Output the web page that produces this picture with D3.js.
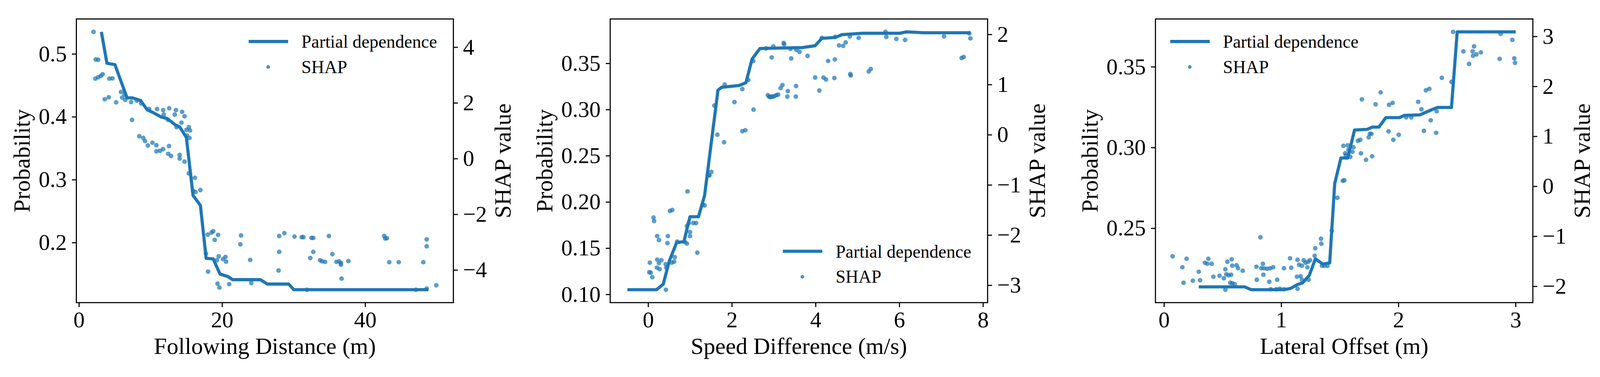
<!DOCTYPE html>
<html>
<head>
<meta charset="utf-8">
<script src="https://cdn.jsdelivr.net/npm/d3@7"></script>
<style>
    html, body { margin: 0; padding: 0; background: #fff; overflow: hidden; }
    svg { display: block; width: 100vw; height: 100vh; }
</style>
</head>
<body>
<svg id="chart" viewBox="0 0 4337 964" preserveAspectRatio="xMidYMid meet"></svg>
<script>
// feature names (x axis titles)
var features = ["Following Distance (m)", "Speed Difference (m/s)", "Lateral Offset (m)"];
var seriesNames = ["Partial dependence", "SHAP"];

// Following distance
var distPdX = [3.14, 3.92, 5.03, 6.73, 7.50, 8.61, 9.55, 10.49, 11.43, 12.37, 13.48, 14.08, 15.02, 15.95, 16.98, 17.78, 18.77, 19.71, 20.82, 21.47, 25.37, 26.33, 29.32, 30.04, 48.85];
var distPdY = [0.535, 0.485, 0.483, 0.430, 0.430, 0.426, 0.411, 0.406, 0.400, 0.397, 0.387, 0.384, 0.367, 0.275, 0.259, 0.175, 0.174, 0.150, 0.146, 0.141, 0.141, 0.134, 0.134, 0.125, 0.125];
var distShapX = [2.04, 2.35, 2.69, 2.29, 2.69, 3.06, 3.32, 4.26, 4.68, 3.61, 4.17, 5.20, 5.88, 6.05, 6.48, 6.39, 7.30, 7.42, 8.44, 9.00,
    9.24, 9.64, 10.27, 10.83, 10.83, 11.34, 11.77, 12.59, 12.49, 12.88, 14.08, 14.08, 14.76, 8.10, 8.70, 9.81, 10.92, 11.77, 11.86, 12.62,
    12.45, 13.56, 13.39, 14.42, 14.76, 14.33, 13.65, 15.36, 15.02, 15.53, 15.45, 15.10, 15.36, 16.21, 15.95, 16.30, 16.98, 18.00, 18.52, 18.77,
    19.45, 18.98, 17.75, 19.54, 19.28, 20.48, 20.14, 18.05, 19.37, 19.63, 21.00, 20.57,
    22.66, 22.56, 23.94, 24.09, 27.90, 27.99, 27.99, 28.71, 30.13, 31.13, 31.37, 31.85, 32.33, 32.51, 32.75, 32.75, 33.70, 33.99, 34.40, 34.94,
    35.42, 35.99, 36.37, 36.61, 36.61, 36.71, 37.66, 42.66, 42.80, 43.04, 43.37, 44.70, 47.09, 48.13, 48.60, 48.60, 48.60, 49.94];
var distShapY = [4.55, 3.56, 3.55, 2.87, 2.92, 2.97, 3.03, 2.87, 2.88, 2.13, 2.20, 2.02, 2.39, 2.19, 2.11, 2.30, 2.03, 1.39, 0.80, 0.74,
    0.63, 0.47, 0.57, 0.48, 0.26, 0.28, 0.34, 0.45, 0.17, 0.09, 0.13, 0.00, -0.11, 2.08, 1.98, 1.78, 1.78, 1.74, 1.58, 1.81,
    1.39, 1.74, 1.58, 1.68, 1.52, 1.29, 1.13, 1.13, 1.03, 1.01, 0.74, 0.83, -0.53, -0.69, -1.16, -1.20, -1.13, -2.73, -2.66, -2.61,
    -2.74, -2.92, -3.41, -3.51, -3.65, -3.53, -3.61, -4.06, -4.49, -4.63, -4.51, -3.70,
    -2.76, -3.08, -3.64, -4.47, -4.02, -3.35, -2.78, -2.68, -2.80, -2.82, -2.82, -4.71, -3.57, -2.85, -2.85, -3.35, -3.65, -3.69, -3.71, -2.78,
    -3.43, -3.71, -3.69, -3.75, -3.81, -4.31, -3.68, -2.78, -2.87, -2.86, -3.72, -3.72, -4.71, -3.72, -2.90, -3.15, -4.67, -4.55];

// Speed difference
var speedPdX = [-0.496, 0.201, 0.361, 0.506, 0.681, 0.855, 1.0, 1.204, 1.349, 1.669, 1.756, 2.177, 2.337, 2.482, 2.671, 3.674, 3.988, 4.151, 4.474, 4.636, 5.123, 6.014, 6.176, 6.582, 7.70];
var speedPdY = [0.105, 0.105, 0.111, 0.136, 0.156, 0.157, 0.184, 0.184, 0.207, 0.321, 0.324, 0.326, 0.329, 0.3545, 0.366, 0.367, 0.369, 0.377, 0.378, 0.381, 0.3825, 0.3825, 0.384, 0.383, 0.383];
var speedShapX = [0.041, 0.027, 0.064, 0.099, 0.129, 0.143, 0.216, 0.259, 0.216, 0.210, 0.274, 0.259, 0.318, 0.419, 0.434, 0.425, 0.472, 0.463, 0.521, 0.579,
    0.565, 0.623, 0.637, 0.695, 0.884, 0.928, 0.942, 0.928, 0.972, 1.001, 1.001, 1.082, 1.146, 1.175, 1.306, 1.350, 1.466, 1.510, 1.451, 1.581,
    1.654, 1.814, 1.829, 2.062, 2.251, 2.251, 2.323, 2.395, 2.518, 2.512, 2.817, 2.953, 2.991, 3.238, 3.252, 3.398, 3.418, 3.543, 3.616, 2.861,
    2.890, 2.919, 2.948, 2.977, 3.020, 3.064, 3.107, 3.165, 3.209, 3.339, 3.325, 3.534, 3.529,
    3.81, 3.99, 4.09, 4.15, 4.19, 4.25, 4.30, 4.46, 4.45, 4.47, 4.56, 4.66, 4.72, 4.82, 4.83, 4.84, 5.03, 5.27, 5.32, 5.67,
    5.69, 5.93, 6.14, 7.07, 7.49, 7.54, 7.67, 7.70];
var speedShapY = [-2.55, -2.74, -2.75, -2.84, -1.65, -1.72, -2.02, -2.10, -2.49, -2.65, -2.68, -2.56, -2.50, -2.58, -2.65, -3.09, -2.02, -2.16, -1.52, -1.50,
    -2.55, -2.53, -2.44, -2.13, -2.14, -2.17, -1.13, -1.82, -1.76, -1.94, -2.02, -1.76, -1.76, -2.35, -1.39, -1.41, -0.81, -0.74, -0.81, 0.58,
    0.00, -0.15, 1.00, 0.65, 0.91, 0.07, 0.09, 1.09, 0.50, 1.47, 1.72, 1.54, 1.76, 1.83, 1.80, 1.71, 1.52, 1.69, 1.65, 0.79,
    0.76, 0.75, 0.76, 0.76, 0.77, 0.79, 0.80, 0.93, 0.99, 0.87, 0.76, 0.97, 0.76,
    1.57, 1.14, 0.88, 1.93, 1.14, 1.10, 1.47, 1.50, 1.13, 1.95, 1.78, 1.77, 1.84, 1.96, 1.21, 1.18, 1.93, 1.26, 1.31, 2.05,
    1.95, 1.91, 1.89, 1.96, 1.53, 1.55, 2.02, 1.92];

// Lateral offset
var latPdX = [0.297, 0.688, 0.746, 1.022, 1.080, 1.138, 1.182, 1.240, 1.292, 1.356, 1.414, 1.457, 1.510, 1.568, 1.626, 1.733, 1.776, 1.834, 1.893, 2.009, 2.052, 2.183, 2.285, 2.334, 2.453, 2.502, 3.001];
var latPdY = [0.2137, 0.2137, 0.2119, 0.2119, 0.2127, 0.2151, 0.2161, 0.2208, 0.2310, 0.2278, 0.2285, 0.2777, 0.2935, 0.2935, 0.3108, 0.3112, 0.3126, 0.3126, 0.3185, 0.3185, 0.3199, 0.3202, 0.3234, 0.3248, 0.3248, 0.3716, 0.3716];
var latShapX = [0.074, 0.157, 0.167, 0.193, 0.247, 0.297, 0.308, 0.350, 0.379, 0.370, 0.407, 0.422, 0.474, 0.511, 0.524, 0.532, 0.552, 0.573, 0.541, 0.578,
    0.583, 0.620, 0.632, 0.672, 0.566, 0.583, 0.604, 0.524, 0.789, 0.823, 0.844, 0.830, 0.854, 0.880, 0.906, 0.932, 0.849, 0.792, 0.899, 0.966,
    0.911, 0.958, 0.989, 1.024, 1.024, 1.076, 1.086, 1.140, 1.153, 1.135, 1.166, 1.177, 1.140, 1.192, 1.208, 1.229, 1.246, 1.177, 1.224, 1.234,
    1.286, 1.291, 1.340, 1.343, 1.348, 1.369, 1.395, 1.432, 1.479, 1.526, 1.531, 1.546, 1.552,
    1.539, 1.568, 1.574, 1.608, 1.590, 1.617, 1.681, 1.655, 1.675, 1.689, 1.724, 1.747, 1.757, 1.776, 1.770, 1.806, 1.849, 1.916, 1.920, 1.951,
    1.957, 2.003, 2.067, 2.110, 2.169, 2.197, 2.218, 2.235, 2.264, 2.276, 2.322, 2.327, 2.371, 2.453, 2.467, 2.554, 2.603, 2.634, 2.637, 2.646,
    2.666, 2.704, 2.864, 2.873, 2.972, 2.989, 2.995];
var latShapY = [-1.40, -1.62, -1.93, -1.45, -1.89, -1.71, -1.88, -1.53, -1.45, -1.55, -1.55, -1.81, -1.79, -1.84, -1.66, -1.76, -1.78, -1.77, -1.51, -1.46,
    -1.59, -1.58, -1.64, -1.69, -1.93, -1.94, -1.96, -2.07, -1.61, -1.02, -1.55, -1.64, -1.64, -1.65, -1.64, -1.62, -1.77, -1.87, -1.91, -1.87,
    -2.06, -2.06, -2.05, -2.06, -1.64, -1.44, -1.63, -1.47, -1.57, -1.81, -1.80, -1.87, -2.05, -1.48, -1.53, -1.51, -1.48, -1.59, -1.62, -1.87,
    -1.39, -1.24, -1.05, -1.15, -1.59, -1.59, -1.59, -0.89, -0.23, 0.11, 0.81, 0.66, 0.62,
    0.12, 0.82, 0.73, 0.69, 0.59, 0.78, 0.66, 0.91, 0.93, 1.74, 0.53, 0.98, 1.05, 0.60, 1.05, 1.64, 1.88, 1.10, 1.63, 1.67,
    0.93, 1.03, 1.38, 1.38, 1.69, 1.54, 1.11, 1.92, 1.95, 1.32, 1.07, 1.50, 2.17, 2.09, 3.09, 2.70, 2.45, 2.70, 2.61, 2.80,
    2.64, 2.68, 2.55, 3.05, 2.93, 2.56, 2.47];

// tick labels
var distXTicks = [0, 20, 40];
var distProbTicks = [0.2, 0.3, 0.4, 0.5];
var distShapTicks = [-4, -2, 0, 2, 4];
var speedXTicks = [0, 2, 4, 6, 8];
var speedProbTicks = [0.10, 0.15, 0.20, 0.25, 0.30, 0.35];
var speedShapTicks = [-3, -2, -1, 0, 1, 2];
var latXTicks = [0, 1, 2, 3];
var latProbTicks = [0.25, 0.30, 0.35];
var latShapTicks = [-2, -1, 0, 1, 2, 3];

var FONT = "'Liberation Serif', 'Times New Roman', Times, serif";
var BLUE = "#1f77b4";
var top_ = 23, bottom_ = 791;

var svg = d3.select("#chart");
svg.append("rect").attr("width", 4337).attr("height", 964).attr("fill", "#fff");

// matplotlib style 5% margins
function padded(values) {
    var ext = d3.extent(values);
    var m = (ext[1] - ext[0]) * 0.05;
    return [ext[0] - m, ext[1] + m];
}

function styleAxis(g, fontSize) {
    g.select(".domain").remove();
    g.attr("font-family", FONT);
    g.selectAll(".tick line").attr("stroke", "#000").attr("stroke-width", 3);
    g.selectAll(".tick text").attr("fill", "#000").attr("font-size", fontSize);
}

function drawPanel(cfg) {
    var g = svg.append("g");

    var x = d3.scaleLinear()
        .domain(padded(cfg.pdX.concat(cfg.shapX)))
        .range([cfg.left, cfg.right]);
    var yProb = d3.scaleLinear()
        .domain(padded(cfg.pdY))
        .range([bottom_, top_]);
    var yShap = d3.scaleLinear()
        .domain(padded(cfg.shapY))
        .range([bottom_, top_]);

    // axes
    g.append("g")
        .attr("transform", "translate(0," + bottom_ + ")")
        .call(d3.axisBottom(x).tickValues(cfg.xTicks).tickFormat(d3.format("d"))
            .tickSize(12).tickSizeOuter(0).tickPadding(12))
        .call(styleAxis, 61);

    var leftAxis = g.append("g")
        .attr("transform", "translate(" + cfg.left + ",0)")
        .call(d3.axisLeft(yProb).tickValues(cfg.probTicks).tickFormat(d3.format(cfg.probFormat))
            .tickSize(12).tickSizeOuter(0).tickPadding(14))
        .call(styleAxis, 61);

    var rightAxis = g.append("g")
        .attr("transform", "translate(" + cfg.right + ",0)")
        .call(d3.axisRight(yShap).tickValues(cfg.shapTicks).tickFormat(d3.format("d"))
            .tickSize(12).tickSizeOuter(0).tickPadding(14))
        .call(styleAxis, 61);

    // partial dependence line (left axis)
    var line = d3.line()
        .x(function (d) { return x(d[0]); })
        .y(function (d) { return yProb(d[1]); });

    g.append("path")
        .datum(d3.zip(cfg.pdX, cfg.pdY))
        .attr("d", line)
        .attr("fill", "none")
        .attr("stroke", BLUE)
        .attr("stroke-width", 8.5)
        .attr("stroke-linejoin", "round");

    // SHAP scatter (right axis, drawn on top)
    g.append("g")
        .selectAll("circle")
        .data(d3.zip(cfg.shapX, cfg.shapY))
        .join("circle")
        .attr("cx", function (d) { return x(d[0]); })
        .attr("cy", function (d) { return yShap(d[1]); })
        .attr("r", 6.3)
        .attr("fill", BLUE)
        .attr("fill-opacity", 0.72);

    // frame
    g.append("rect")
        .attr("x", cfg.left)
        .attr("y", top_)
        .attr("width", cfg.right - cfg.left)
        .attr("height", bottom_ - top_)
        .attr("fill", "none")
        .attr("stroke", "#000")
        .attr("stroke-width", 3);

    // axis titles
    var midY = (top_ + bottom_) / 2;
    var lb = leftAxis.node().getBBox();
    var rb = rightAxis.node().getBBox();

    g.append("text")
        .attr("x", (cfg.left + cfg.right) / 2)
        .attr("y", 930)
        .attr("text-anchor", "middle")
        .attr("font-family", FONT)
        .attr("font-size", 63)
        .text(cfg.title);

    g.append("text")
        .attr("transform", "translate(" + (cfg.left + lb.x - 24) + "," + midY + ") rotate(-90)")
        .attr("text-anchor", "middle")
        .attr("font-family", FONT)
        .attr("font-size", 63)
        .text("Probability");

    g.append("text")
        .attr("transform", "translate(" + (cfg.right + rb.x + rb.width + 64) + "," + midY + ") rotate(-90)")
        .attr("text-anchor", "middle")
        .attr("font-family", FONT)
        .attr("font-size", 63)
        .text("SHAP value");

    // legend
    var lx, ly;
    if (cfg.legend === "upper right") { lx = cfg.right - 555; ly = top_ + 61; }
    else if (cfg.legend === "upper left") { lx = cfg.left + 40; ly = top_ + 61; }
    else { lx = cfg.right - 555; ly = bottom_ - 139; }

    var leg = g.append("g").attr("font-family", FONT).attr("font-size", 48.5);
    leg.append("line")
        .attr("x1", lx).attr("x2", lx + 107)
        .attr("y1", ly).attr("y2", ly)
        .attr("stroke", BLUE)
        .attr("stroke-width", 8.5);
    leg.append("text")
        .attr("x", lx + 143).attr("y", ly).attr("dy", "0.35em")
        .text(seriesNames[0]);
    leg.append("circle")
        .attr("cx", lx + 53).attr("cy", ly + 69)
        .attr("r", 5)
        .attr("fill", BLUE)
        .attr("fill-opacity", 0.8);
    leg.append("text")
        .attr("x", lx + 143).attr("y", ly + 69).attr("dy", "0.34em")
        .text(seriesNames[1]);
}

drawPanel({
    title: features[0], left: 207, right: 1229,
    pdX: distPdX, pdY: distPdY, shapX: distShapX, shapY: distShapY,
    xTicks: distXTicks, probTicks: distProbTicks, shapTicks: distShapTicks,
    probFormat: ".1f", legend: "upper right"
});

drawPanel({
    title: features[1], left: 1654, right: 2677,
    pdX: speedPdX, pdY: speedPdY, shapX: speedShapX, shapY: speedShapY,
    xTicks: speedXTicks, probTicks: speedProbTicks, shapTicks: speedShapTicks,
    probFormat: ".2f", legend: "lower right"
});

drawPanel({
    title: features[2], left: 3132, right: 4155,
    pdX: latPdX, pdY: latPdY, shapX: latShapX, shapY: latShapY,
    xTicks: latXTicks, probTicks: latProbTicks, shapTicks: latShapTicks,
    probFormat: ".2f", legend: "upper left"
});
</script>
</body>
</html>
